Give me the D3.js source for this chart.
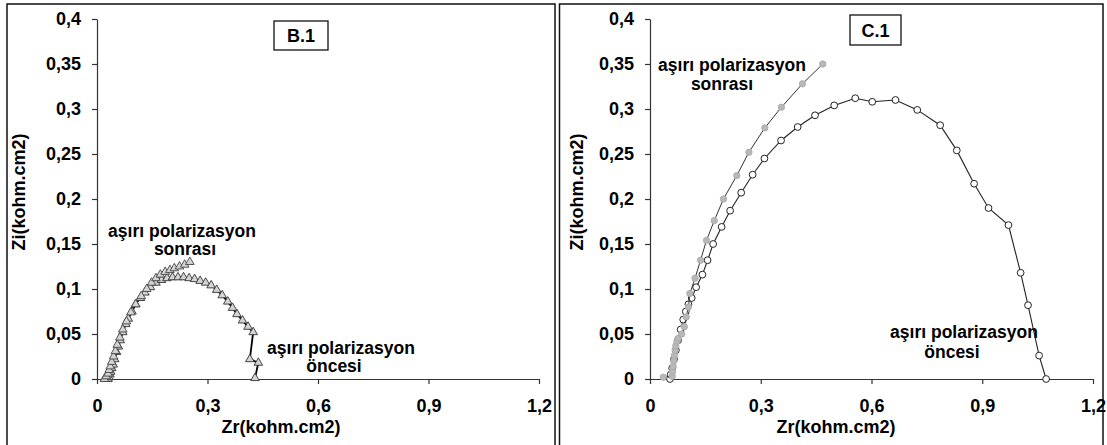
<!DOCTYPE html>
<html>
<head>
<meta charset="utf-8">
<script src="https://cdn.jsdelivr.net/npm/d3@7"></script>
<style>
  html, body { margin: 0; padding: 0; background: #fff; }
  svg { display: block; font-family: "Liberation Sans", Arial, sans-serif; }
  text { font-weight: bold; fill: #000; }
</style>
</head>
<body>
<svg id="chart" width="1107" height="445"></svg>
<script>
// Axis ticks shared by both Nyquist panels
const xTicks = [0, 0.3, 0.6, 0.9, 1.2];
const xTickLabels = ["0", "0,3", "0,6", "0,9", "1,2"];
const yTicks = [0, 0.05, 0.1, 0.15, 0.2, 0.25, 0.3, 0.35, 0.4];
const yTickLabels = ["0", "0,05", "0,1", "0,15", "0,2", "0,25", "0,3", "0,35", "0,4"];
const xTitle = "Zr(kohm.cm2)";
const yTitle = "Zi(kohm.cm2)";

// Panel B.1: [Zr, Zi] in kohm.cm2
const b1Before = [
  [0.030,0.000],[0.032,0.002],[0.035,0.005],[0.037,0.008],[0.040,0.012],[0.044,0.016],
  [0.048,0.022],[0.053,0.030],[0.058,0.036],[0.063,0.043],[0.070,0.052],[0.078,0.061],
  [0.085,0.067],[0.095,0.075],[0.105,0.083],[0.118,0.090],[0.130,0.096],[0.145,0.102],
  [0.160,0.107],[0.175,0.110],[0.190,0.112],[0.205,0.113],[0.220,0.113],[0.235,0.113],
  [0.250,0.112],[0.265,0.111],[0.280,0.109],[0.295,0.107],[0.310,0.104],[0.325,0.099],
  [0.340,0.093],[0.355,0.086],[0.368,0.079],[0.380,0.072],[0.395,0.065],[0.410,0.058],
  [0.424,0.052],[0.415,0.022],[0.438,0.018],[0.429,0.001]
];
const b1After = [
  [0.020,0.000],[0.025,0.003],[0.030,0.006],[0.033,0.010],[0.036,0.014],[0.040,0.019],
  [0.045,0.025],[0.050,0.031],[0.055,0.038],[0.062,0.046],[0.070,0.055],[0.080,0.064],
  [0.092,0.074],[0.105,0.083],[0.120,0.092],[0.135,0.100],[0.148,0.107],[0.160,0.112],
  [0.172,0.116],[0.185,0.119],[0.198,0.121],[0.210,0.123],[0.224,0.125],[0.238,0.127],
  [0.252,0.130]
];

// Panel C.1: [Zr, Zi] in kohm.cm2
const c1Before = [
  [0.054,0.000],[0.056,0.005],[0.060,0.012],[0.065,0.022],[0.070,0.032],[0.076,0.043],
  [0.083,0.055],[0.090,0.066],[0.097,0.075],[0.104,0.083],[0.113,0.090],[0.125,0.102],
  [0.142,0.116],[0.156,0.132],[0.171,0.150],[0.194,0.169],[0.217,0.187],[0.247,0.207],
  [0.278,0.227],[0.310,0.245],[0.355,0.265],[0.400,0.280],[0.447,0.293],[0.499,0.304],
  [0.556,0.312],[0.602,0.308],[0.665,0.310],[0.724,0.299],[0.786,0.282],[0.831,0.254],
  [0.878,0.217],[0.917,0.190],[0.971,0.171],[1.004,0.118],[1.024,0.082],[1.054,0.026],
  [1.073,0.000]
];
const c1After = [
  [0.036,0.002],[0.060,0.003],[0.061,0.008],[0.063,0.014],[0.064,0.020],[0.066,0.026],
  [0.068,0.032],[0.070,0.037],[0.073,0.042],[0.076,0.045],[0.086,0.050],[0.093,0.058],
  [0.098,0.069],[0.104,0.080],[0.108,0.095],[0.122,0.112],[0.137,0.132],[0.153,0.154],
  [0.174,0.176],[0.199,0.200],[0.235,0.226],[0.268,0.252],[0.311,0.279],[0.356,0.302],
  [0.413,0.328],[0.468,0.350]
];

const svg = d3.select("#chart");

// Panel frames
svg.append("rect").attr("x", 7).attr("y", 4).attr("width", 548).attr("height", 460)
  .attr("fill", "none").attr("stroke", "#111").attr("stroke-width", 1.5);
svg.append("rect").attr("x", 559.5).attr("y", 4).attr("width", 543.5).attr("height", 460)
  .attr("fill", "none").attr("stroke", "#111").attr("stroke-width", 1.5);

function drawPanel(opt) {
  const x = d3.scaleLinear().domain([0, 1.2]).range([opt.x0, opt.x1]);
  const y = d3.scaleLinear().domain([0, 0.4]).range([379, 19]);

  const g = svg.append("g");

  const xAxis = g.append("g").attr("transform", "translate(0,379)")
    .call(d3.axisBottom(x).tickValues(xTicks).tickFormat((d, i) => xTickLabels[i])
      .tickSize(5).tickSizeOuter(0).tickPadding(15));
  const yAxis = g.append("g").attr("transform", `translate(${opt.x0},0)`)
    .call(d3.axisLeft(y).tickValues(yTicks).tickFormat((d, i) => yTickLabels[i])
      .tickSize(5).tickSizeOuter(0).tickPadding(11));
  [xAxis, yAxis].forEach(a => {
    a.selectAll("path.domain").attr("stroke", "#333").attr("stroke-width", 1.2);
    a.selectAll(".tick line").attr("stroke", "#333").attr("stroke-width", 1.2);
    a.selectAll(".tick text").attr("font-size", 18).attr("font-weight", "bold")
      .attr("fill", "#000").attr("font-family", "Liberation Sans, Arial, sans-serif");
  });

  // Axis titles
  g.append("text").attr("x", opt.xTitleX).attr("y", 433).attr("text-anchor", "middle")
    .attr("font-size", 18).text(xTitle);
  g.append("text").attr("transform", `translate(${opt.yTitleX},192) rotate(-90)`)
    .attr("text-anchor", "middle").attr("font-size", 18).text(yTitle);

  // Panel tag box
  g.append("rect").attr("x", opt.tag.x).attr("y", opt.tag.y).attr("width", opt.tag.w).attr("height", opt.tag.h)
    .attr("fill", "#fff").attr("stroke", "#111").attr("stroke-width", 1.3);
  g.append("text").attr("x", opt.tag.x + opt.tag.w / 2).attr("y", opt.tag.y + opt.tag.h / 2 + 6.5)
    .attr("text-anchor", "middle").attr("font-size", 18).text(opt.tag.label);

  // Two-line annotations
  opt.notes.forEach(n => {
    g.append("text").attr("x", n.x).attr("y", n.y).attr("text-anchor", "middle")
      .attr("font-size", 17.5).text(n.t);
  });

  return { g, x, y };
}

// ---- Panel B.1 ----
const pB = drawPanel({
  x0: 97, x1: 539, xTitleX: 281, yTitleX: 25,
  tag: { x: 274, y: 21, w: 54, h: 29, label: "B.1" },
  notes: [
    { x: 182, y: 237, t: "aşırı polarizasyon" },
    { x: 185, y: 255, t: "sonrası" },
    { x: 341, y: 354, t: "aşırı polarizasyon" },
    { x: 334, y: 372, t: "öncesi" }
  ]
});
{
  const { g, x, y } = pB;
  const line = d3.line().x(d => x(d[0])).y(d => y(d[1]));
  const tri = d3.symbol(d3.symbolTriangle, 32);
  g.append("path").datum(b1After).attr("d", line)
    .attr("fill", "none").attr("stroke", "#777").attr("stroke-width", 1);
  g.append("path").datum(b1Before).attr("d", line)
    .attr("fill", "none").attr("stroke", "#000").attr("stroke-width", 1.8);
  g.selectAll(".tb").data(b1Before).join("path").attr("class", "tb")
    .attr("transform", d => `translate(${x(d[0])},${y(d[1])})`).attr("d", tri)
    .attr("fill", "#d4d4d4").attr("stroke", "#333").attr("stroke-width", 0.9);
  g.selectAll(".ta").data(b1After).join("path").attr("class", "ta")
    .attr("transform", d => `translate(${x(d[0])},${y(d[1])})`).attr("d", tri)
    .attr("fill", "#d4d4d4").attr("stroke", "#444").attr("stroke-width", 0.9);
}

// ---- Panel C.1 ----
const pC = drawPanel({
  x0: 650, x1: 1093, xTitleX: 836, yTitleX: 583,
  tag: { x: 850, y: 15, w: 51, h: 30, label: "C.1" },
  notes: [
    { x: 732, y: 71, t: "aşırı polarizasyon" },
    { x: 722, y: 90, t: "sonrası" },
    { x: 964, y: 338, t: "aşırı polarizasyon" },
    { x: 952, y: 358, t: "öncesi" }
  ]
});
{
  const { g, x, y } = pC;
  const line = d3.line().x(d => x(d[0])).y(d => y(d[1]));
  g.append("path").datum(c1Before).attr("d", line)
    .attr("fill", "none").attr("stroke", "#222").attr("stroke-width", 1.1);
  g.selectAll(".cb").data(c1Before).join("circle").attr("class", "cb")
    .attr("cx", d => x(d[0])).attr("cy", d => y(d[1])).attr("r", 3.4)
    .attr("fill", "#fff").attr("stroke", "#222").attr("stroke-width", 1);
  g.append("path").datum(c1After).attr("d", line)
    .attr("fill", "none").attr("stroke", "#333").attr("stroke-width", 1);
  g.selectAll(".ca").data(c1After).join("circle").attr("class", "ca")
    .attr("cx", d => x(d[0])).attr("cy", d => y(d[1])).attr("r", 3.2)
    .attr("fill", "#b8b8b8").attr("stroke", "#a8a8a8").attr("stroke-width", 0.8);
}
</script>
</body>
</html>
